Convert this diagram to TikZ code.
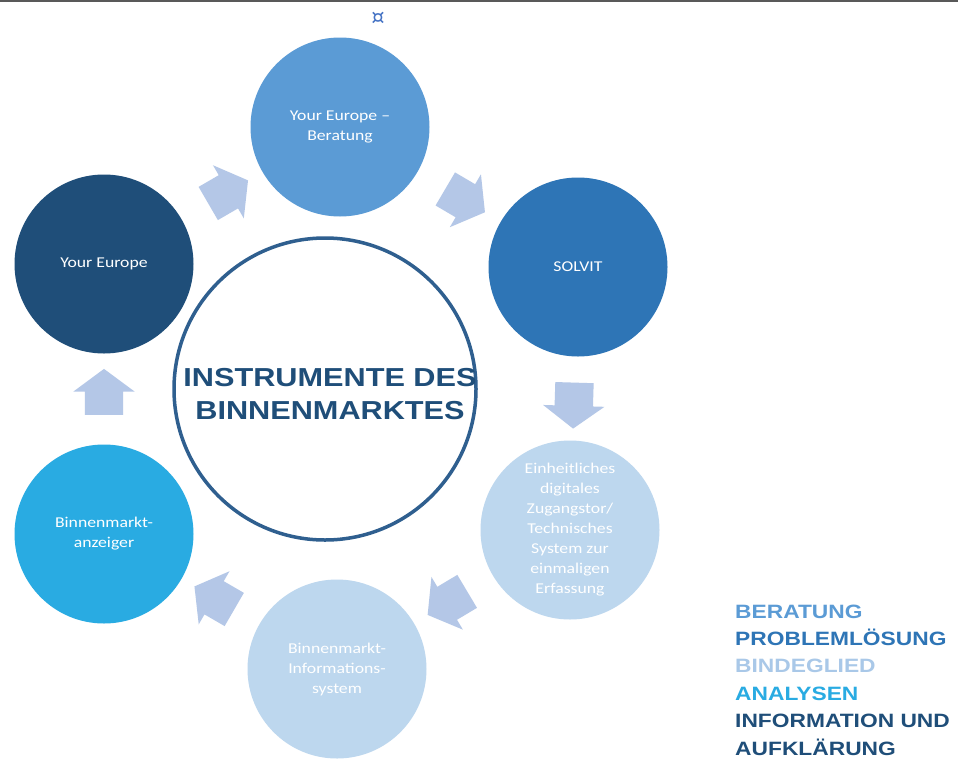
\documentclass[tikz,border=0pt]{standalone}
\usepackage{fontspec}
\setmainfont{Carlito}[FakeStretch=1.18]
\newfontfamily\arialfont{Liberation Sans}[FakeStretch=1.18]
\newfontfamily\symfont{DejaVu Sans}
\usetikzlibrary{shapes.arrows}
\definecolor{cBer}{HTML}{5B9BD5}
\definecolor{cSol}{HTML}{2E75B6}
\definecolor{cLight}{HTML}{BDD7EE}
\definecolor{cAna}{HTML}{29ABE2}
\definecolor{cDark}{HTML}{1F4E79}
\definecolor{cArrow}{HTML}{B4C7E7}
\definecolor{cRing}{HTML}{2F5F8F}
\definecolor{cAnchor}{HTML}{4472C4}
\definecolor{cLeg}{HTML}{A9C8E8}
\tikzset{
  circ/.style={circle, minimum size=179pt, inner sep=0pt, text=white, align=center,
    font=\fontsize{15}{20}\selectfont},
  blockarrow/.style={single arrow, fill=cArrow, draw=none, minimum height=46pt,
    minimum width=0pt, inner xsep=0pt, inner ysep=19pt,
    single arrow head extend=11.5pt, single arrow tip angle=107,
    sloped, allow upside down, midway},
  legend/.style={anchor=base west, inner sep=0pt,
    font=\arialfont\bfseries\fontsize{19.3}{19}\selectfont}
}
\begin{document}
\begin{tikzpicture}[x=1pt,y=-1pt]
\useasboundingbox (0,0) rectangle (958,758);
\fill[white] (0,0) rectangle (958,758);
\draw[line width=2pt, draw=black!65] (0,1) -- (958,1);
\node[text=cAnchor, font=\symfont\fontsize{21}{21}\selectfont, inner sep=0pt] (anchor) at (378,18) {¤};

% centre
\node[circle, draw=cRing, line width=3.5pt, minimum size=302pt, inner sep=0pt] (centre) at (325,389) {};
\node[text=cDark, align=center, inner sep=0pt,
  font=\arialfont\bfseries\fontsize{26}{33}\selectfont] (title) at (330,394.5)
  {INSTRUMENTE DES\\BINNENMARKTES};

% ring
\node[circ, fill=cBer] (ber) at (340,127) {Your Europe --\\Beratung};
\node[circ, fill=cSol] (sol) at (578,267) {SOLVIT};
\node[circ, fill=cLight] (sdg) at (570,530) {Einheitliches\\digitales\\Zugangstor/\\Technisches\\System zur\\einmaligen\\Erfassung};
\node[circ, fill=cLight] (imi) at (337,669) {Binnenmarkt-\\Informations-\\system};
\node[circ, fill=cAna] (anz) at (104,534) {Binnenmarkt-\\anzeiger};
\node[circ, fill=cDark] (ye) at (104,264) {Your Europe};

% arrows
\path (ye) -- node[blockarrow] (a1) {} (ber);
\path (ber) -- node[blockarrow] (a2) {} (sol);
\path (sol) -- node[blockarrow] (a3) {} (sdg);
\path (sdg) -- node[blockarrow] (a4) {} (imi);
\path (imi) -- node[blockarrow] (a5) {} (anz);
\path (anz) -- node[blockarrow] (a6) {} (ye);

% legend
\node[legend, text=cBer] (l1) at (735,618) {BERATUNG};
\node[legend, text=cSol] (l2) at (735,645.4) {PROBLEMLÖSUNG};
\node[legend, text=cLeg] (l3) at (735,672.8) {BINDEGLIED};
\node[legend, text=cAna] (l4) at (735,700.2) {ANALYSEN};
\node[legend, text=cDark] (l5) at (735,727.6) {INFORMATION UND};
\node[legend, text=cDark] (l6) at (735,755) {AUFKLÄRUNG};
\end{tikzpicture}
\end{document}
